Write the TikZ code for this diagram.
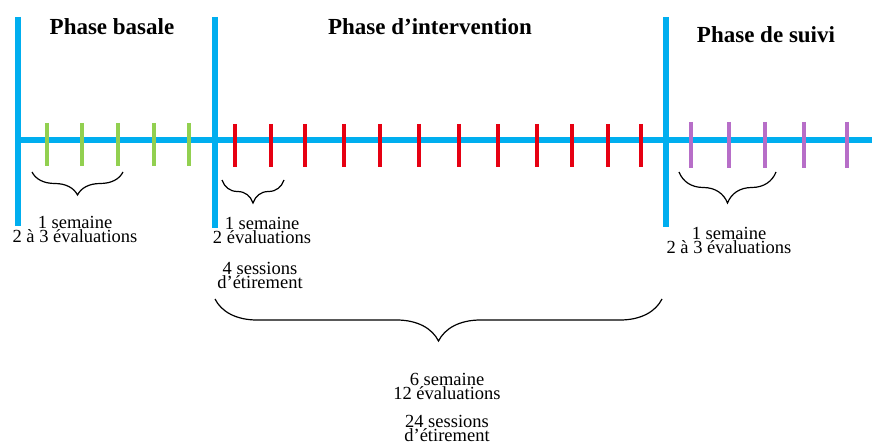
\documentclass[tikz,border=0pt]{standalone}
\usepackage{fontspec}
\setmainfont{Liberation Serif}
\usetikzlibrary{decorations.pathreplacing, positioning}
\definecolor{TimelineBlue}{RGB}{0,174,239}
\definecolor{BaseGreen}{RGB}{146,208,80}
\definecolor{InterRed}{RGB}{230,0,18}
\definecolor{SuiviPurple}{RGB}{183,110,200}

\begin{document}
\begin{tikzpicture}[
    x=1pt, y=-1pt,
    axis/.style={
        draw=TimelineBlue,
        line width=6pt
    },
    evaltick/.style={
        line width=3.5pt
    },
    bracket/.style={
        draw=black,
        line width=1.2pt,
        decorate,
        decoration={brace, mirror, amplitude=#1}
    },
    phase/.style={
        font=\fontsize{23}{26}\selectfont\bfseries,
        text=black,
        inner sep=0pt
    },
    note/.style={
        font=\fontsize{18.5}{14}\selectfont,
        align=center,
        text=black,
        inner sep=0pt
    }
]
\useasboundingbox (0,0) rectangle (872,446);

% Timeline and phase limits
\draw[axis] (18,140) -- (872,140);
\draw[axis] (18,17) coordinate (b0) -- (18,226);
\draw[axis] (215,17) coordinate (b1) -- (215,228);
\draw[axis] (666,17) coordinate (b2) -- (666,227);

% Evaluations
\foreach \x in {47,82,118,154,189}
    \draw[evaltick, BaseGreen] (\x,123) -- (\x,166);
\foreach \x in {235,271,305,344,380,419,459,498,537,572,608,641}
    \draw[evaltick, InterRed] (\x,124) -- (\x,167);
\foreach \x in {691,729,765,804,847}
    \draw[evaltick, SuiviPurple] (\x,122) -- (\x,168);

% Phase titles
\node[phase, anchor=base] (basale) at (112,35) {Phase basale};
\node[phase, anchor=base] (intervention) at (430,35) {Phase d’intervention};
\node[phase, anchor=base] (suivi) at (766,43) {Phase de suivi};

% Braces
\draw[bracket=23] (32,172) -- (123,172);
\draw[bracket=23] (222,180) -- (284,180);
\draw[bracket=31] (679,172) -- (776,172);
\draw[bracket=42] (215,299) -- (662,299);

% Notes
\node[note, anchor=north] (noteBasale) at (75,216.5) {1 semaine\\2 à 3 évaluations};
\node[note, anchor=north] (noteInter) at (262,217.5) {1 semaine\\2 évaluations};
\node[note, anchor=north] (sessInter) at (260,262) {4 sessions\\d’étirement};
\node[note, anchor=north] (noteSuivi) at (729,227) {1 semaine\\2 à 3 évaluations};
\node[note, anchor=north] (total) at (447,373) {6 semaine\\12 évaluations};
\node[note, below=15pt of total.south] (totalSess) {24 sessions\\d’étirement};

\end{tikzpicture}
\end{document}
